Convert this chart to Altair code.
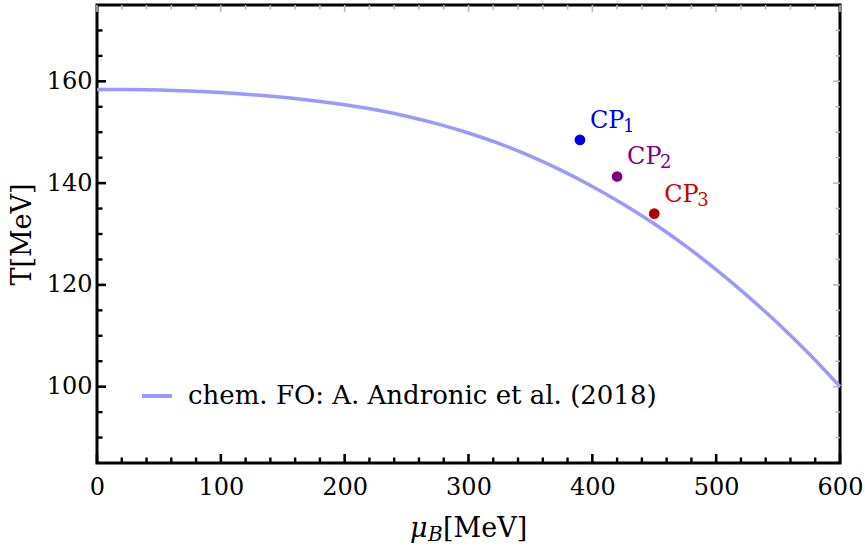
import altair as alt
import pandas as pd

# ---- data ----
curve_mu = [0, 25, 50, 75, 100, 125, 150, 175, 200, 225, 250, 275, 300,
            325, 350, 375, 400, 425, 450, 475, 500, 525, 550, 575, 600]
curve_T = [158.4, 158.38, 158.3, 158.1, 157.8, 157.38, 156.85, 156.2, 155.4,
           154.4, 153.15, 151.65, 149.85, 147.75, 145.3, 142.5, 139.35, 135.85,
           132.0, 127.7, 123.0, 117.9, 112.4, 106.45, 100.0]
legend_label = "chem. FO: A. Andronic et al. (2018)"

cp_names = ["CP", "CP", "CP"]
cp_subs = ["1", "2", "3"]
cp_mu = [390, 420, 450]
cp_T = [148.5, 141.3, 134.0]
cp_point_colors = ["#0000ee", "#800080", "#aa0000"]
cp_text_colors = ["#0000e0", "#800080", "#cc0000"]

x_major = [0, 100, 200, 300, 400, 500, 600]
x_minor = [v for v in range(20, 600, 20) if v % 100 != 0]
y_major = [100, 120, 140, 160]
y_minor = [90, 95, 105, 110, 115, 125, 130, 135, 145, 150, 155, 165, 170]

xtitle_parts = ["\u03bc", "B", "[MeV]"]
ytitle = "T[MeV]"

# ---- layout ----
W, H = 743, 458
FONT = "DejaVu Serif"
X0, X1 = 0, 600
Y0, Y1 = 85, 175
PX_PER_X = W / (X1 - X0)   # pixels per MeV on x
PX_PER_Y = H / (Y1 - Y0)   # pixels per MeV on y

xs = alt.Scale(domain=[X0, X1], nice=False, zero=False)
ys = alt.Scale(domain=[Y0, Y1], nice=False, zero=False)

curve_df = pd.DataFrame({"mu": curve_mu, "T": curve_T, "series": legend_label})
cp_df = pd.DataFrame({"mu": cp_mu, "T": cp_T, "name": cp_names, "sub": cp_subs,
                      "pcolor": cp_point_colors, "tcolor": cp_text_colors})

line = alt.Chart(curve_df).mark_line(strokeWidth=3.5, interpolate="monotone").encode(
    x=alt.X("mu:Q", scale=xs,
            axis=alt.Axis(orient="bottom", values=x_major, ticks=False, tickSize=0,
                          domain=False, grid=False, labelFont=FONT, labelFontSize=24,
                          labelColor="black", labelPadding=12, labelFlush=False,
                          labelOverlap=False, title=None)),
    y=alt.Y("T:Q", scale=ys,
            axis=alt.Axis(orient="left", values=y_major, ticks=False, tickSize=0,
                          domain=False, grid=False, labelFont=FONT, labelFontSize=24,
                          labelColor="black", labelPadding=5, labelFlush=False,
                          labelOverlap=False, title=ytitle, titleFont=FONT,
                          titleFontSize=27, titleFontWeight="normal",
                          titleColor="black", titlePadding=10)),
    color=alt.Color("series:N",
                    scale=alt.Scale(domain=[legend_label], range=["#9999ff"]),
                    legend=alt.Legend(orient="none", legendX=43, legendY=374,
                                      title=None, symbolType="stroke",
                                      symbolSize=900, symbolStrokeWidth=4,
                                      labelFont=FONT, labelFontSize=26,
                                      labelColor="black", labelOffset=14,
                                      labelLimit=0, padding=0)),
)

points = alt.Chart(cp_df).mark_circle(size=115, opacity=1).encode(
    x=alt.X("mu:Q", scale=xs, axis=None),
    y=alt.Y("T:Q", scale=ys, axis=None),
    color=alt.Color("pcolor:N", scale=None),
)

labels = alt.Chart(cp_df).mark_text(align="left", baseline="alphabetic", dx=10,
                                    dy=-12, font=FONT, fontSize=24).encode(
    x=alt.X("mu:Q", scale=xs, axis=None),
    y=alt.Y("T:Q", scale=ys, axis=None),
    text="name:N",
    color=alt.Color("tcolor:N", scale=None),
)

sublabels = alt.Chart(cp_df).mark_text(align="left", baseline="alphabetic", dx=43,
                                       dy=-8, font=FONT, fontSize=18).encode(
    x=alt.X("mu:Q", scale=xs, axis=None),
    y=alt.Y("T:Q", scale=ys, axis=None),
    text="sub:N",
    color=alt.Color("tcolor:N", scale=None),
)


def xticks(values, at, length_px, color, width):
    """Vertical tick segments at x = values, from y=at inward by length_px."""
    sign = 1 if at == Y0 else -1
    df = pd.DataFrame({"v": values, "a": [at] * len(values),
                       "b": [at + sign * length_px / PX_PER_Y] * len(values)})
    return alt.Chart(df).mark_rule(color=color, strokeWidth=width).encode(
        x=alt.X("v:Q", scale=xs, axis=None),
        y=alt.Y("a:Q", scale=ys, axis=None),
        y2="b:Q")


def yticks(values, at, length_px, color, width):
    """Horizontal tick segments at y = values, from x=at inward by length_px."""
    sign = 1 if at == X0 else -1
    df = pd.DataFrame({"v": values, "a": [at] * len(values),
                       "b": [at + sign * length_px / PX_PER_X] * len(values)})
    return alt.Chart(df).mark_rule(color=color, strokeWidth=width).encode(
        y=alt.Y("v:Q", scale=ys, axis=None),
        x=alt.X("a:Q", scale=xs, axis=None),
        x2="b:Q")


ticks = [
    xticks(x_major, Y0, 9, "black", 2.6),
    xticks(x_minor, Y0, 5.5, "black", 2.4),
    yticks(y_major, X0, 9, "black", 2.6),
    yticks(y_minor, X0, 5.5, "black", 2.4),
    xticks(x_major, Y1, 7, "#b8b8b8", 1.6),
    xticks(x_minor, Y1, 4.5, "#b8b8b8", 1.6),
    yticks(y_major, X1, 7, "#b8b8b8", 1.6),
    yticks(y_minor, X1, 4.5, "#b8b8b8", 1.6),
]

t_mu = alt.Chart(pd.DataFrame({"t": [xtitle_parts[0]]})).mark_text(
    align="left", baseline="alphabetic", font=FONT, fontSize=27, fontStyle="italic",
    color="black").encode(text="t:N", x=alt.value(313), y=alt.value(532))
t_b = alt.Chart(pd.DataFrame({"t": [xtitle_parts[1]]})).mark_text(
    align="left", baseline="alphabetic", font=FONT, fontSize=20, fontStyle="italic",
    color="black").encode(text="t:N", x=alt.value(331), y=alt.value(536))
t_mev = alt.Chart(pd.DataFrame({"t": [xtitle_parts[2]]})).mark_text(
    align="left", baseline="alphabetic", font=FONT, fontSize=27,
    color="black").encode(text="t:N", x=alt.value(346), y=alt.value(532))

chart = alt.layer(line, *ticks, points, labels, sublabels,
                  t_mu, t_b, t_mev).resolve_axis(
    x="independent", y="independent"
).properties(
    width=W, height=H,
    autosize=alt.AutoSizeParams(type="none"),
    padding={"left": 97, "top": 5, "right": 25, "bottom": 85},
).configure_view(stroke="black", strokeWidth=3)

chart.save("out.html", embed_options={"renderer": "svg", "actions": False})
